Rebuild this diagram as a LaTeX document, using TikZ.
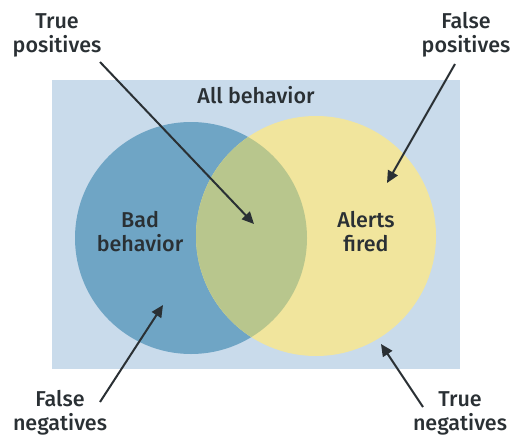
\documentclass[tikz,border=0pt]{standalone}
\usepackage{fontspec}
\setmainfont{Fira Sans}[BoldFont={* Medium}]
\usetikzlibrary{arrows.meta}
\definecolor{bgblue}{HTML}{C9DBEB}
\definecolor{badblue}{HTML}{6FA5C5}
\definecolor{alertyellow}{HTML}{F1E59D}
\definecolor{overlapgreen}{HTML}{B8C68D}
\definecolor{ink}{HTML}{2A3034}
\tikzset{
  venn label/.style={font=\bfseries\fontsize{21.5}{24}\selectfont, text=ink, align=center, inner sep=2pt},
  pointer/.style={draw=ink, line width=2pt, -{Triangle[length=12pt,width=11pt]}}
}

\begin{document}
\begin{tikzpicture}[x=1pt,y=1pt,yscale=-1,xscale=1]
\useasboundingbox (0,0) rectangle (516,436);

%Shape: Rectangle
\fill [bgblue] (52,80) rectangle (460,369);
%Shape: Circle
\fill [badblue] (191,238) circle (116);
%Shape: Circle
\fill [alertyellow] (316,236) circle (120);
%Shape: Overlap
\begin{scope}
\clip (191,238) circle (116);
\fill [overlapgreen] (316,236) circle (120);
\end{scope}

% Text Node
\node [venn label] (all) at (256,95) {All behavior};
\node [venn label] (bad) at (140,232) {Bad\\behavior};
\node [venn label] (alerts) at (366,232) {Alerts\\fired};
\node [venn label] (tp) at (57,35) {True\\positives};
\node [venn label] (fp) at (466,35) {False\\positives};
\node [venn label] (fn) at (60,413) {False\\negatives};
\node [venn label] (tn) at (460,413) {True\\negatives};

%Arrow tips
\coordinate (tptip) at (254,224);
\coordinate (fptip) at (387,183);
\coordinate (fntip) at (163,305);
\coordinate (tntip) at (381,344);

%Arrows
\draw [pointer] ([shift={(43,27)}]tp.center) -- (tptip);
\draw [pointer] ([shift={(-11,29)}]fp.center) -- (fptip);
\draw [pointer] ([shift={(40,-11)}]fn.center) -- (fntip);
\draw [pointer] ([shift={(-37,-6)}]tn.center) -- (tntip);

\end{tikzpicture}
\end{document}
